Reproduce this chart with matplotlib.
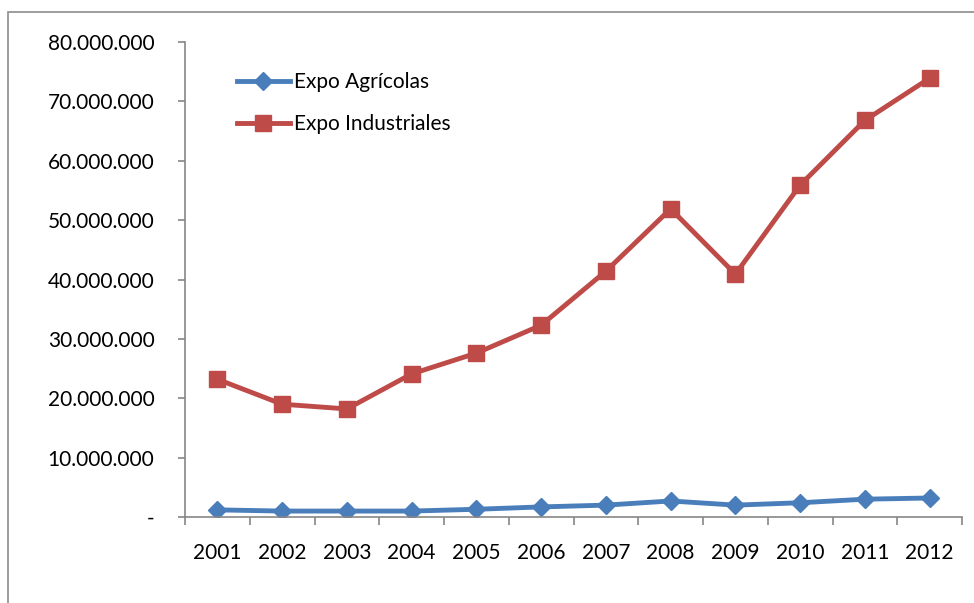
import matplotlib.pyplot as plt
from matplotlib.patches import Rectangle
from matplotlib.ticker import FuncFormatter, FixedLocator
import numpy as np

plt.rcParams['font.family'] = ['Lato', 'DejaVu Sans']

years = ['2001', '2002', '2003', '2004', '2005', '2006',
         '2007', '2008', '2009', '2010', '2011', '2012']
agricolas = [1.2e6, 1.0e6, 1.0e6, 1.0e6, 1.3e6, 1.7e6,
             2.0e6, 2.7e6, 2.0e6, 2.4e6, 3.0e6, 3.2e6]
industriales = [23.2e6, 19.0e6, 18.2e6, 24.1e6, 27.6e6, 32.3e6,
                41.4e6, 51.9e6, 40.9e6, 55.9e6, 66.8e6, 73.9e6]

fig = plt.figure(figsize=(9.74, 6.03), dpi=100)
W, H = 974, 603

# outer chart frame (runs off the right and bottom edge)
fig.patches.append(Rectangle((8 / W, -0.1), 1.2, 1 - 12 / H + 0.1,
                             transform=fig.transFigure, fill=False,
                             edgecolor='#8c8c8c', linewidth=1.2))

ax = fig.add_axes([185 / W, 1 - 517 / H, (962 - 185) / W, (517 - 42) / H])
x = np.arange(1, len(years) + 1)

ax.plot(x, agricolas, color='#4A7EBB', linewidth=3.5, marker='D',
        markersize=9, label='Expo Agrícolas')
ax.plot(x, industriales, color='#BE4B48', linewidth=3.5, marker='s',
        markersize=11.5, label='Expo Industriales')

ax.set_xlim(0.5, len(years) + 0.5)
ax.set_ylim(0, 80e6)
ax.set_yticks(np.arange(0, 80e6 + 1, 10e6))

def fmt(v, pos):
    if v == 0:
        return '-'
    return f'{int(v):,}'.replace(',', '.')

ax.yaxis.set_major_formatter(FuncFormatter(fmt))
ax.set_xticks(x)
ax.set_xticklabels(years)
ax.xaxis.set_minor_locator(FixedLocator(np.arange(0.5, len(years) + 1, 1)))

for s in ['top', 'right']:
    ax.spines[s].set_visible(False)
for s in ['left', 'bottom']:
    ax.spines[s].set_color('#868686')
    ax.spines[s].set_linewidth(1.2)

ax.tick_params(axis='y', length=5, width=1.2, color='#868686', pad=17,
               labelsize=15)
ax.tick_params(axis='x', which='major', length=0, pad=19, labelsize=15)
ax.tick_params(axis='x', which='minor', length=6, width=1.2, color='#868686')

leg = ax.legend(loc='upper left', bbox_to_anchor=(227 / W, 1 - 62 / H),
                bbox_transform=fig.transFigure, frameon=False, fontsize=15,
                handlelength=2.5, handletextpad=0.2, labelspacing=1.05,
                borderpad=0)

fig.savefig('out.png', dpi=100)
